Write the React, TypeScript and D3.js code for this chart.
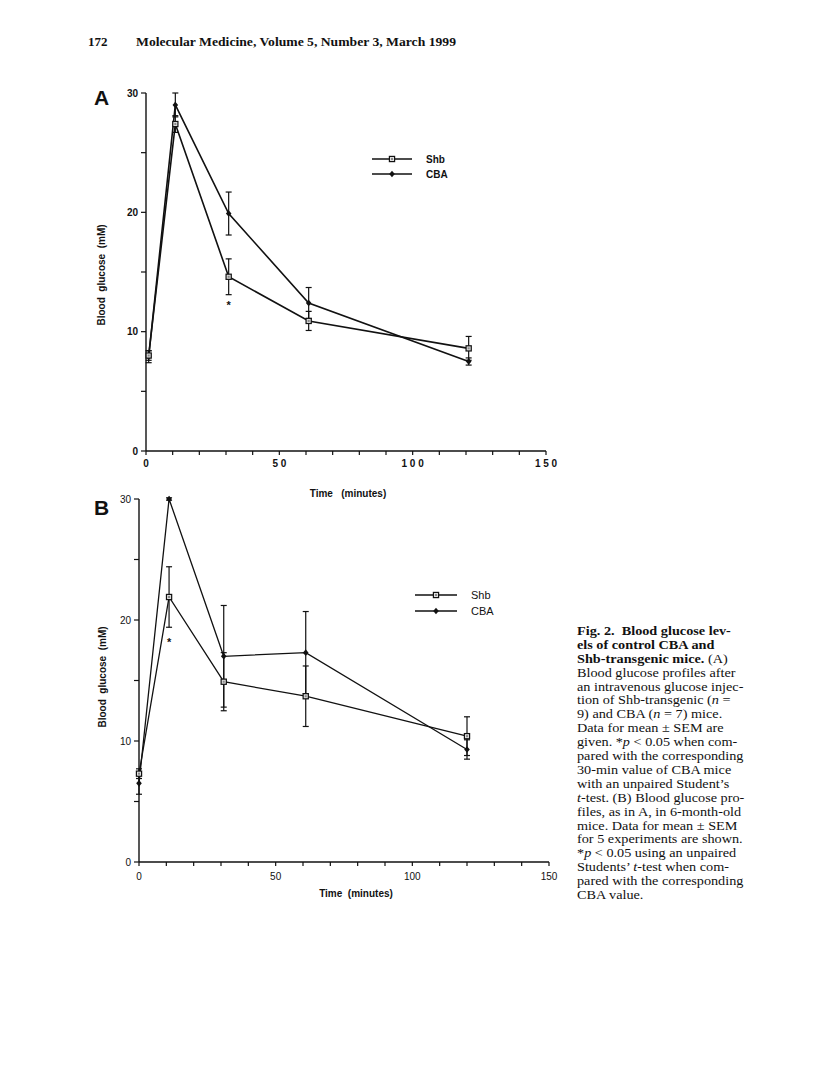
import React from "react";
import * as d3 from "d3";

// ---------- Data ----------
const timesA = [1, 11, 31, 61, 121];
const shbA = [8.0, 27.4, 14.6, 10.9, 8.6];
const shbSemA = [0.4, 0.7, 1.5, 0.8, 1.0];
const cbaA = [7.9, 29.0, 19.9, 12.4, 7.5];
const cbaSemA = [0.5, 1.0, 1.8, 1.3, 0.3];

const timesB = [0, 11, 31, 61, 120];
const shbB = [7.3, 21.9, 14.9, 13.7, 10.4];
const shbSemB = [0.4, 2.5, 2.4, 2.5, 1.6];
const cbaB = [6.5, 30.0, 17.0, 17.3, 9.3];
const cbaSemB = [0.9, 0.1, 4.2, 3.4, 0.8];

const xMajorTicks = [0, 50, 100, 150];
const xMinorTicks = d3.range(0, 151, 10);
const yMajorTicks = [0, 10, 20, 30];
const yMinorTicks = d3.range(0, 31, 5);
const seriesNames = ["Shb", "CBA"];

const captionLines: { parts: { t: string; b?: boolean; i?: boolean }[] }[] = [
  { parts: [{ t: "Fig. 2.  Blood glucose lev-", b: true }] },
  { parts: [{ t: "els of control CBA and", b: true }] },
  { parts: [{ t: "Shb-transgenic mice.", b: true }, { t: " (A)" }] },
  { parts: [{ t: "Blood glucose profiles after" }] },
  { parts: [{ t: "an intravenous glucose injec-" }] },
  { parts: [{ t: "tion of Shb-transgenic (" }, { t: "n", i: true }, { t: " =" }] },
  { parts: [{ t: "9) and CBA (" }, { t: "n", i: true }, { t: " = 7) mice." }] },
  { parts: [{ t: "Data for mean \u00b1 SEM are" }] },
  { parts: [{ t: "given. *" }, { t: "p", i: true }, { t: " < 0.05 when com-" }] },
  { parts: [{ t: "pared with the corresponding" }] },
  { parts: [{ t: "30-min value of CBA mice" }] },
  { parts: [{ t: "with an unpaired Student\u2019s" }] },
  { parts: [{ t: "t", i: true }, { t: "-test. (B) Blood glucose pro-" }] },
  { parts: [{ t: "files, as in A, in 6-month-old" }] },
  { parts: [{ t: "mice. Data for mean \u00b1 SEM" }] },
  { parts: [{ t: "for 5 experiments are shown." }] },
  { parts: [{ t: "*" }, { t: "p", i: true }, { t: " < 0.05 using an unpaired" }] },
  { parts: [{ t: "Students\u2019 " }, { t: "t", i: true }, { t: "-test when com-" }] },
  { parts: [{ t: "pared with the corresponding" }] },
  { parts: [{ t: "CBA value." }] },
];

const SANS = "'Liberation Sans', Arial, Helvetica, sans-serif";
const SERIF = "'Liberation Serif', 'Times New Roman', serif";

type PanelProps = {
  letter: string;
  letterPos: [number, number];
  times: number[];
  shb: number[];
  shbSem: number[];
  cba: number[];
  cbaSem: number[];
  xRange: [number, number];
  yRange: [number, number];
  bold: boolean;
  xLabels: string[];
  yTitlePos: [number, number];
  xTitlePos: [number, number];
  xTickLabelY: number;
  legend: { x1: number; x2: number; y: number[]; tx: number; size: number };
  star: { t: number; y: number };
  strokeW: number;
};

function Panel(p: PanelProps) {
  const x = d3.scaleLinear().domain([0, 150]).range(p.xRange);
  const y = d3.scaleLinear().domain([0, 30]).range(p.yRange);
  const line = d3
    .line<number>()
    .x((_, i) => x(p.times[i]))
    .y((d) => y(d));
  const fw = p.bold ? "bold" : "normal";
  const x0 = p.xRange[0];
  const y0 = p.yRange[0];
  const cap = 3;

  const errBars = (vals: number[], sems: number[], key: string) =>
    vals.map((v, i) => {
      const cx = x(p.times[i]);
      const top = y(v + sems[i]);
      const bot = y(v - sems[i]);
      return (
        <g key={key + i} stroke="#111" strokeWidth={1.2}>
          <line x1={cx} x2={cx} y1={top} y2={bot} />
          <line x1={cx - cap} x2={cx + cap} y1={top} y2={top} />
          <line x1={cx - cap} x2={cx + cap} y1={bot} y2={bot} />
        </g>
      );
    });

  const square = (cx: number, cy: number, k: string) => (
    <g key={k}>
      <rect x={cx - 2.6} y={cy - 2.6} width={5.2} height={5.2} fill="#ddd" stroke="#111" strokeWidth={1.2} />
      <rect x={cx - 1} y={cy - 1} width={2} height={2} fill="#888" />
    </g>
  );
  const diamond = (cx: number, cy: number, k: string) => (
    <path
      key={k}
      d={`M${cx},${cy - 3.3}L${cx + 2.8},${cy}L${cx},${cy + 3.3}L${cx - 2.8},${cy}Z`}
      fill="#111"
    />
  );

  return (
    <g>
      <text
        x={p.letterPos[0]}
        y={p.letterPos[1]}
        fontFamily={SANS}
        fontWeight="bold"
        fontSize={21}
        fill="#111"
      >
        {p.letter}
      </text>
      {/* axes */}
      <line x1={x0} x2={x0} y1={y0} y2={p.yRange[1]} stroke="#111" strokeWidth={1.4} />
      <line x1={x0} x2={p.xRange[1]} y1={y0} y2={y0} stroke="#111" strokeWidth={1.4} />
      {xMinorTicks.map((t) => (
        <line key={"xt" + t} x1={x(t)} x2={x(t)} y1={y0} y2={y0 + 4} stroke="#111" strokeWidth={1.2} />
      ))}
      {yMinorTicks.map((t) => (
        <line key={"yt" + t} x1={x0 - 5} x2={x0} y1={y(t)} y2={y(t)} stroke="#111" strokeWidth={1.2} />
      ))}
      {xMajorTicks.map((t, i) => (
        <text
          key={"xl" + t}
          x={x(t)}
          y={p.xTickLabelY}
          textAnchor="middle"
          fontFamily={SANS}
          fontWeight={fw}
          fontSize={10}
          fill="#111"
          style={{ whiteSpace: "pre" }}
        >
          {p.xLabels[i]}
        </text>
      ))}
      {yMajorTicks.map((t) => (
        <text
          key={"yl" + t}
          x={x0 - 8}
          y={y(t) + 3.5}
          textAnchor="end"
          fontFamily={SANS}
          fontWeight={fw}
          fontSize={10}
          fill="#111"
        >
          {t}
        </text>
      ))}
      <text
        transform={`translate(${p.yTitlePos[0]},${p.yTitlePos[1]}) rotate(-90)`}
        textAnchor="middle"
        fontFamily={SANS}
        fontWeight="bold"
        fontSize={10}
        fill="#111"
        style={{ whiteSpace: "pre" }}
      >
        {"Blood  glucose  (mM)"}
      </text>
      <text
        x={p.xTitlePos[0]}
        y={p.xTitlePos[1]}
        textAnchor="middle"
        fontFamily={SANS}
        fontWeight="bold"
        fontSize={10}
        fill="#111"
        style={{ whiteSpace: "pre" }}
      >
        {p.bold ? "Time   (minutes)" : "Time  (minutes)"}
      </text>
      {/* lines */}
      <path d={line(p.cba) || ""} fill="none" stroke="#111" strokeWidth={p.strokeW} />
      <path d={line(p.shb) || ""} fill="none" stroke="#111" strokeWidth={p.strokeW} />
      {errBars(p.cba, p.cbaSem, "ec")}
      {errBars(p.shb, p.shbSem, "es")}
      {p.cba.map((v, i) => diamond(x(p.times[i]), y(v), "dc" + i))}
      {p.shb.map((v, i) => square(x(p.times[i]), y(v), "ds" + i))}
      <text
        x={x(p.star.t)}
        y={p.star.y}
        textAnchor="middle"
        fontFamily={SANS}
        fontWeight="bold"
        fontSize={11}
        fill="#111"
      >
        *
      </text>
      {/* legend */}
      {seriesNames.map((n, i) => {
        const ly = p.legend.y[i];
        const mx = (p.legend.x1 + p.legend.x2) / 2;
        return (
          <g key={"lg" + n}>
            <line x1={p.legend.x1} x2={p.legend.x2} y1={ly} y2={ly} stroke="#111" strokeWidth={1.3} />
            {i === 0 ? square(mx, ly, "ls") : diamond(mx, ly, "ld")}
            <text
              x={p.legend.tx}
              y={ly + 4}
              fontFamily={SANS}
              fontWeight={fw}
              fontSize={p.legend.size}
              fill="#111"
            >
              {n}
            </text>
          </g>
        );
      })}
    </g>
  );
}

export default function App() {
  return (
    <svg
      width={816}
      height={1088}
      style={{ position: "absolute", left: 0, top: 0, background: "#fff" }}
    >
      <rect width={816} height={1088} fill="#fff" />
      <text x={88} y={46} fontFamily={SERIF} fontWeight="bold" fontSize={13} fill="#111">
        172
      </text>
      <text
        x={136}
        y={46}
        fontFamily={SERIF}
        fontWeight="bold"
        fontSize={13}
        fill="#111"
        textLength={320}
        lengthAdjust="spacingAndGlyphs"
      >
        Molecular Medicine, Volume 5, Number 3, March 1999
      </text>

      <Panel
        letter="A"
        letterPos={[94, 105]}
        times={timesA}
        shb={shbA}
        shbSem={shbSemA}
        cba={cbaA}
        cbaSem={cbaSemA}
        xRange={[146, 546]}
        yRange={[451, 93]}
        bold={true}
        xLabels={["0", "5 0", "1 0 0", "1 5 0"]}
        yTitlePos={[105, 275]}
        xTitlePos={[348, 497]}
        xTickLabelY={467}
        legend={{ x1: 372, x2: 412, y: [159, 174], tx: 426, size: 10 }}
        star={{ t: 31, y: 309 }}
        strokeW={1.6}
      />
      <Panel
        letter="B"
        letterPos={[94, 515]}
        times={timesB}
        shb={shbB}
        shbSem={shbSemB}
        cba={cbaB}
        cbaSem={cbaSemB}
        xRange={[139, 549]}
        yRange={[862, 499]}
        bold={false}
        xLabels={["0", "50", "100", "150"]}
        yTitlePos={[106, 677]}
        xTitlePos={[356, 897]}
        xTickLabelY={880}
        legend={{ x1: 415, x2: 457, y: [595, 611], tx: 471, size: 11 }}
        star={{ t: 11, y: 646 }}
        strokeW={1.3}
      />

      <g transform="translate(577,0) scale(1.14,1)">
        {captionLines.map((ln, i) => (
          <text
            key={"cap" + i}
            x={0}
            y={635 + i * 13.9}
            fontFamily={SERIF}
            fontSize={12.5}
            fill="#111"
            style={{ whiteSpace: "pre" }}
          >
            {ln.parts.map((pt, j) => (
              <tspan key={j} fontWeight={pt.b ? "bold" : "normal"} fontStyle={pt.i ? "italic" : "normal"}>
                {pt.t}
              </tspan>
            ))}
          </text>
        ))}
      </g>
    </svg>
  );
}
